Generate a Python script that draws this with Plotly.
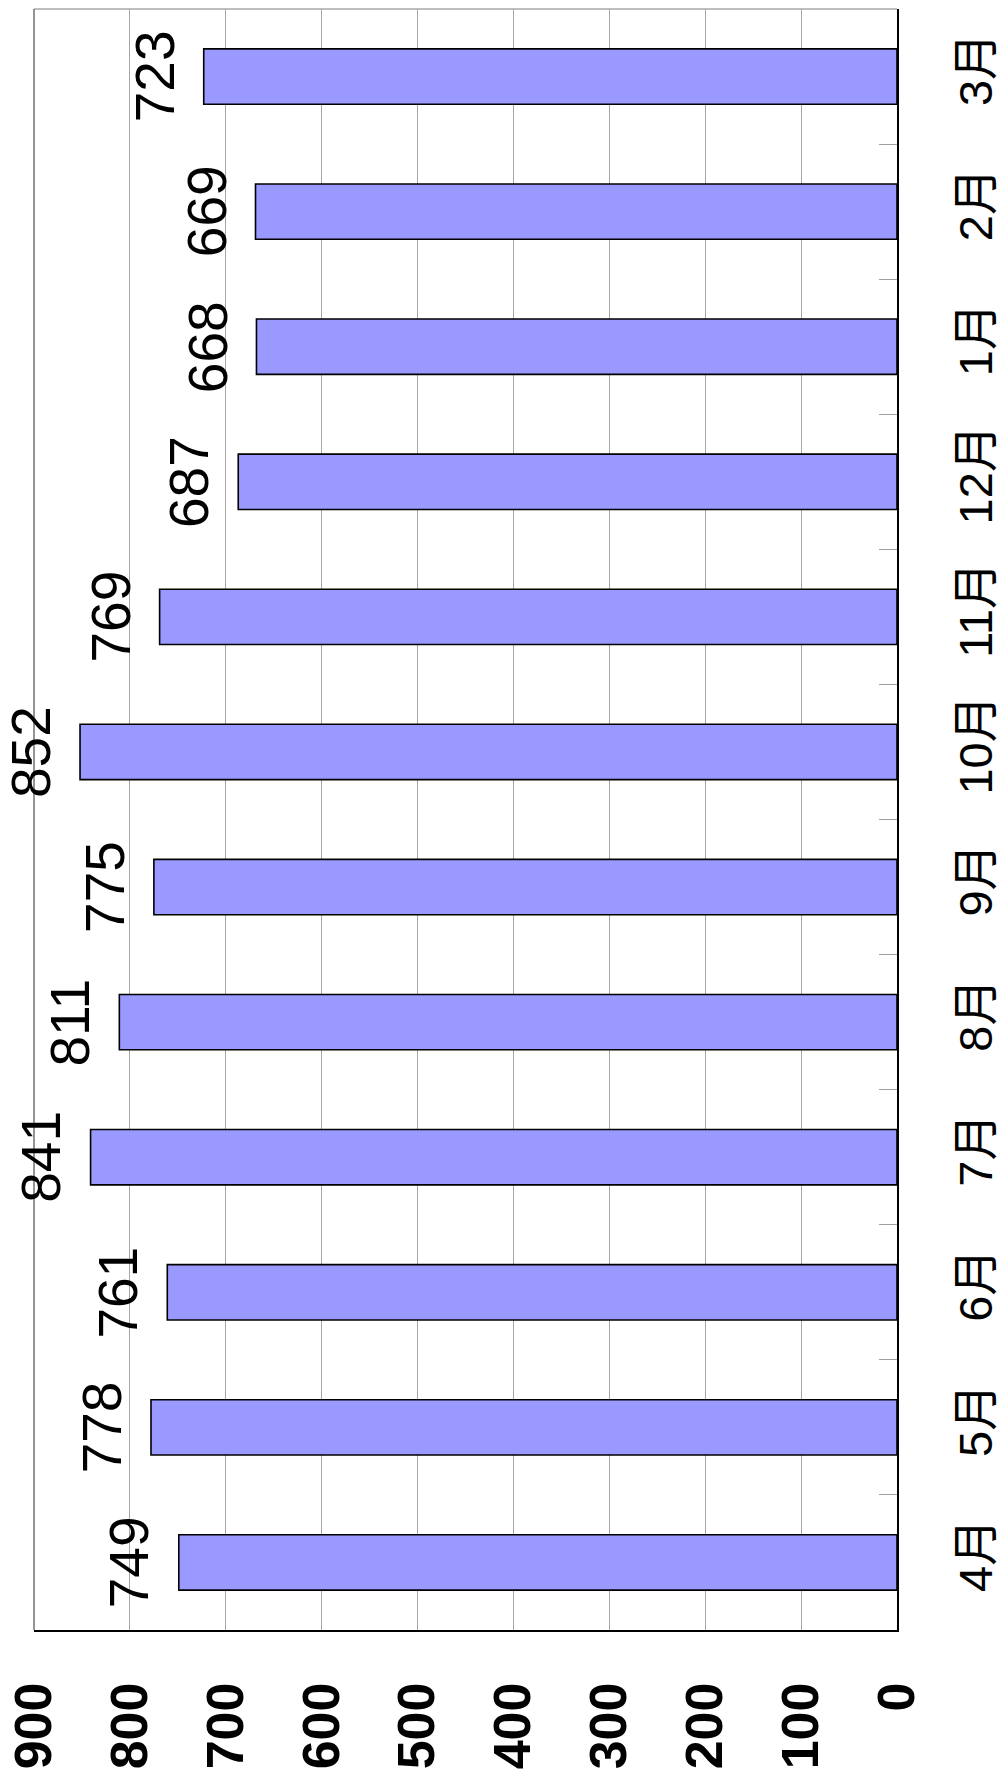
import plotly.graph_objects as go

# Monthly totals, fiscal year order (April through March)
months = ["4月", "5月", "6月", "7月", "8月", "9月", "10月", "11月", "12月", "1月", "2月", "3月"]
values = [749, 778, 761, 841, 811, 775, 852, 769, 687, 668, 669, 723]
value_ticks = [0, 100, 200, 300, 400, 500, 600, 700, 800, 900]

fig = go.Figure()

fig.add_trace(go.Bar(
    x=values,
    y=months,
    orientation="h",
    width=0.41,
    marker=dict(color="#9999FF", line=dict(color="black", width=1.6)),
    hoverinfo="x+y",
))

# value labels beyond the end of each bar, reading bottom to top
for m, v in zip(months, values):
    fig.add_annotation(
        x=v, y=m, xref="x", yref="y",
        text=str(v), showarrow=False,
        textangle=-90, xanchor="right", yanchor="middle",
        xshift=-16,
        font=dict(family="Liberation Sans, Arial, sans-serif", size=55, color="black"),
    )

# plot frame: light top edge, darker left edge
fig.add_shape(type="line", xref="paper", yref="paper", x0=0, x1=1, y0=1, y1=1,
              line=dict(color="#a8a8a8", width=1.5))
fig.add_shape(type="line", xref="paper", yref="paper", x0=0, x1=0, y0=0, y1=1,
              line=dict(color="#707070", width=1.5))

fig.update_xaxes(
    range=[900, 0],
    tickvals=value_ticks,
    ticktext=[str(t) for t in value_ticks],
    tickangle=-90,
    tickfont=dict(family="Liberation Sans", size=52, color="black", weight="bold"),
    showgrid=True, gridcolor="#a6a6a6", gridwidth=1,
    zeroline=False,
    showline=True, linecolor="black", linewidth=1.6,
    ticks="", ticklabelstandoff=30,
    automargin=False,
    fixedrange=True,
)

fig.update_yaxes(
    type="category",
    categoryorder="array", categoryarray=months,
    range=[-0.5, 11.5],
    side="right",
    tickangle=-90,
    tickfont=dict(family="Liberation Sans, Noto Sans CJK JP, sans-serif", size=47, color="black"),
    tickson="boundaries",
    ticks="inside", ticklen=18, tickcolor="#a0a0a0", tickwidth=1.2,
    showgrid=False,
    showline=True, linecolor="black", linewidth=1.6,
    ticklabelstandoff=37,
    automargin=False,
    fixedrange=True,
)

fig.update_layout(
    width=1005, height=1778,
    margin=dict(l=34, r=108, t=9, b=148),
    plot_bgcolor="white",
    paper_bgcolor="white",
    showlegend=False,
)

fig.write_html("out.html")
